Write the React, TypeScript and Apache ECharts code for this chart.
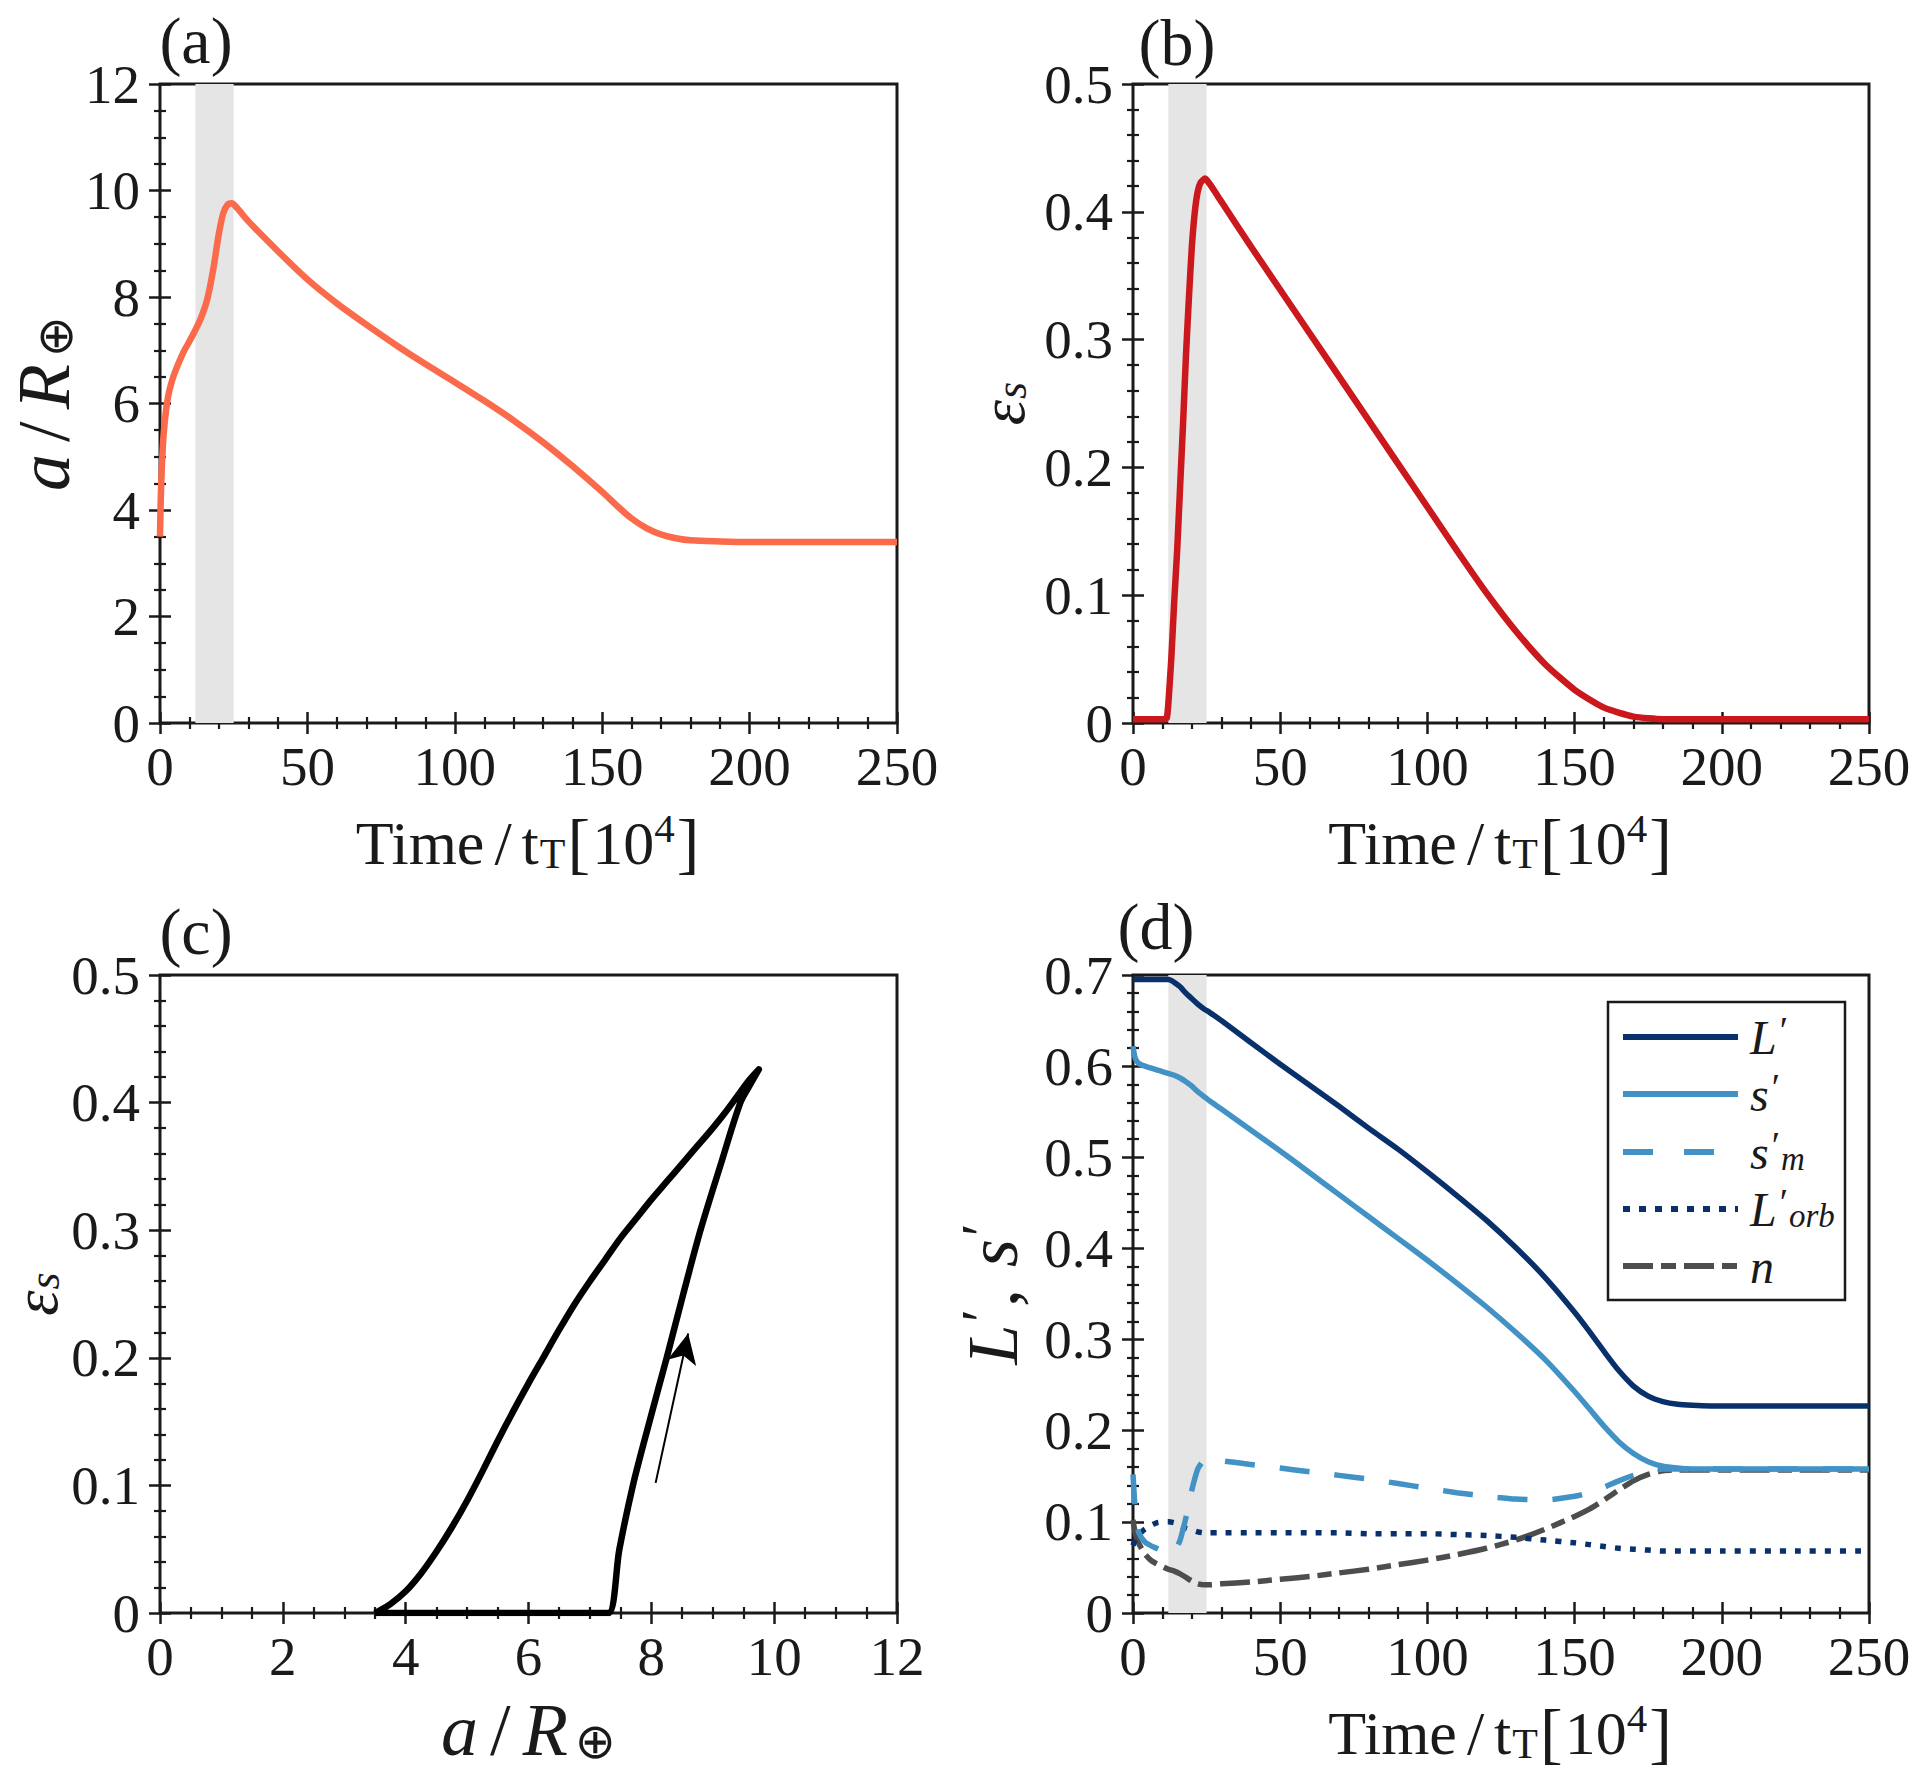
import React, { useEffect, useRef } from "react";
import * as echarts from "echarts";

const SERIF = "'Liberation Serif', 'DejaVu Serif', 'Times New Roman', serif";
const INK = "#1a1a1a";

// ---------- Panel (a): a/R⊕ vs time ----------
const tA = [0, 0.3, 0.7, 1.2, 2, 3, 4.5, 6, 8, 10, 12, 14, 16, 18, 20, 21.5, 23, 24.3, 26, 30, 40, 50, 60, 70, 80, 90, 100, 110, 120, 130, 140, 150, 155, 160, 165, 170, 175, 180, 190, 200, 250];
const aVals = [3.5, 4.3, 4.9, 5.4, 5.85, 6.2, 6.5, 6.72, 6.97, 7.17, 7.38, 7.62, 7.95, 8.5, 9.2, 9.58, 9.74, 9.76, 9.68, 9.42, 8.86, 8.33, 7.88, 7.48, 7.1, 6.74, 6.4, 6.05, 5.68, 5.27, 4.82, 4.34, 4.08, 3.84, 3.66, 3.54, 3.47, 3.43, 3.41, 3.4, 3.4];

// ---------- Panel (b): ε_s vs time ----------
const tB = [0, 5, 10, 11, 11.5, 12, 13, 14, 15, 16, 17, 18, 19, 20, 21, 22, 23, 24.5, 26, 30, 40, 50, 60, 70, 80, 90, 100, 110, 120, 130, 140, 150, 160, 170, 180, 190, 250];
const epsVals = [0.003, 0.003, 0.003, 0.003, 0.004, 0.015, 0.05, 0.095, 0.135, 0.185, 0.234, 0.288, 0.333, 0.373, 0.4, 0.416, 0.423, 0.426, 0.422, 0.408, 0.373, 0.339, 0.305, 0.271, 0.237, 0.203, 0.169, 0.135, 0.102, 0.072, 0.046, 0.026, 0.012, 0.005, 0.003, 0.003, 0.003];

// ---------- Panel (c): ε_s vs a/R⊕ (trajectory) ----------
const cA = [3.5, 5, 6, 7, 7.3, 7.48, 7.7, 7.97, 8.25, 8.52, 8.8, 9.12, 9.45, 9.62, 9.75, 9.6, 9.4, 9.2, 9.0, 8.75, 8.5, 8.25, 8.0, 7.75, 7.5, 7.25, 7.0, 6.75, 6.5, 6.25, 6.0, 5.75, 5.5, 5.25, 5.0, 4.75, 4.5, 4.25, 4.0, 3.75, 3.5];
const cEps = [0, 0, 0, 0, 0, 0.05, 0.1, 0.15, 0.2, 0.25, 0.3, 0.35, 0.4, 0.415, 0.426, 0.418, 0.405, 0.392, 0.38, 0.366, 0.352, 0.338, 0.324, 0.309, 0.294, 0.277, 0.26, 0.242, 0.222, 0.201, 0.18, 0.158, 0.135, 0.111, 0.088, 0.067, 0.048, 0.031, 0.017, 0.007, 0];
const arrowFrom = [8.07, 0.102];
const arrowTo = [8.6, 0.219];

// ---------- Panel (d): L', s', s'_m, L'_orb, n vs time ----------
const tD = [0, 0.5, 1, 2, 4, 6, 8, 10, 12, 14, 16, 18, 20, 22, 24, 26, 30, 40, 50, 60, 70, 80, 90, 100, 110, 120, 130, 140, 150, 155, 160, 165, 170, 175, 180, 185, 190, 200, 225, 250];
const LVals = [0.695, 0.695, 0.695, 0.695, 0.695, 0.695, 0.695, 0.695, 0.695, 0.692, 0.687, 0.68, 0.674, 0.668, 0.663, 0.659, 0.65, 0.626, 0.602, 0.579, 0.556, 0.532, 0.509, 0.484, 0.458, 0.431, 0.401, 0.368, 0.33, 0.309, 0.287, 0.266, 0.249, 0.238, 0.232, 0.229, 0.228, 0.227, 0.227, 0.227];
const sVals = [0.622, 0.612, 0.607, 0.603, 0.6, 0.598, 0.596, 0.594, 0.592, 0.59, 0.587, 0.583, 0.578, 0.572, 0.567, 0.562, 0.553, 0.53, 0.507, 0.483, 0.459, 0.435, 0.411, 0.387, 0.362, 0.336, 0.308, 0.278, 0.243, 0.224, 0.205, 0.188, 0.175, 0.166, 0.161, 0.159, 0.158, 0.158, 0.158, 0.158];
const smVals = [0.152, 0.125, 0.105, 0.088, 0.078, 0.074, 0.071, 0.068, 0.066, 0.067, 0.08, 0.105, 0.135, 0.158, 0.167, 0.168, 0.167, 0.163, 0.159, 0.155, 0.151, 0.147, 0.142, 0.137, 0.132, 0.128, 0.125, 0.124, 0.128, 0.132, 0.138, 0.145, 0.151, 0.155, 0.158, 0.158, 0.158, 0.158, 0.158, 0.158];
const LorbVals = [0.074, 0.078, 0.081, 0.086, 0.092, 0.096, 0.099, 0.1, 0.1, 0.099, 0.096, 0.093, 0.091, 0.089, 0.088, 0.088, 0.088, 0.088, 0.088, 0.088, 0.088, 0.087, 0.087, 0.087, 0.086, 0.085, 0.083, 0.08, 0.077, 0.075, 0.073, 0.071, 0.07, 0.069, 0.068, 0.068, 0.068, 0.068, 0.068, 0.068];
const nVals = [0.102, 0.092, 0.085, 0.076, 0.065, 0.058, 0.054, 0.051, 0.048, 0.046, 0.043, 0.039, 0.035, 0.032, 0.031, 0.031, 0.032, 0.034, 0.037, 0.04, 0.044, 0.048, 0.053, 0.058, 0.064, 0.071, 0.08, 0.092, 0.106, 0.114, 0.124, 0.135, 0.145, 0.152, 0.156, 0.157, 0.157, 0.157, 0.157, 0.157];

// shaded time window (units of 10^4 t_T)
const shadeWindow = [12, 25];

const legendNames = ["L'", "s'", "s'_m", "L'_orb", "n"];

function pairs(xs: number[], ys: number[]) {
  return xs.map((x, i) => [x, ys[i]]);
}

const GRIDS = [
  { left: 160, top: 84, width: 737, height: 639 },
  { left: 1133, top: 84, width: 736, height: 639 },
  { left: 160, top: 975, width: 737, height: 638 },
  { left: 1133, top: 975, width: 736, height: 638 },
];

const TICK_FS = 55;

function rich(fs: number) {
  const small = Math.round(fs * 0.68);
  return {
    n: { fontFamily: SERIF, fontSize: fs, color: INK },
    sl: { fontFamily: SERIF, fontSize: fs, color: INK, padding: [0, Math.round(fs * 0.16), 0, Math.round(fs * 0.16)] },
    cm: { fontFamily: SERIF, fontSize: fs, color: INK, padding: [0, Math.round(fs * 0.3), 0, 2] },
    i: { fontFamily: SERIF, fontSize: fs, fontStyle: "italic", color: INK },
    iR: { fontFamily: SERIF, fontSize: fs, fontStyle: "italic", color: INK, padding: [0, Math.round(fs * 0.06), 0, 0] },
    lo: { fontFamily: SERIF, fontSize: small, padding: [Math.round(fs * 0.36), 0, 0, 1], color: INK },
    ilo: { fontFamily: SERIF, fontStyle: "italic", fontSize: small, padding: [Math.round(fs * 0.3), 0, 0, 1], color: INK },
    oplus: { fontFamily: "'DejaVu Sans', sans-serif", fontSize: Math.round(fs * 0.66), padding: [Math.round(fs * 0.3), 0, 0, 3], color: INK },
    hi: { fontFamily: SERIF, fontSize: Math.round(fs * 0.66), padding: [0, 0, Math.round(fs * 0.5), 0], color: INK },
    pr: { fontFamily: SERIF, fontSize: Math.round(fs * 0.8), padding: [0, 0, Math.round(fs * 0.32), 3], color: INK },
    br: { fontFamily: SERIF, fontSize: Math.round(fs * 1.1), color: INK, padding: [0, 2, 0, 2] },
  };
}

function tickStyle(minorSplit: number) {
  return {
    axisLine: { show: false },
    axisTick: { show: true, inside: true, length: 11, lineStyle: { color: INK, width: 2.5 } },
    minorTick: { show: true, splitNumber: minorSplit, length: 6, lineStyle: { color: INK, width: 2.2 } },
    splitLine: { show: false },
    minorSplitLine: { show: false },
  };
}

function xAxes(g: number, min: number, max: number, interval: number, minorSplit: number, name: string, nameGap: number, nameFs: number) {
  return [
    {
      type: "value", gridIndex: g, position: "bottom", min, max, interval,
      ...tickStyle(minorSplit),
      axisLabel: { fontFamily: SERIF, fontSize: TICK_FS, color: INK, margin: 16, showMinLabel: true, showMaxLabel: true },
      name, nameLocation: "middle", nameGap,
      nameTextStyle: { fontFamily: SERIF, fontSize: nameFs, color: INK, rich: rich(nameFs) },
    },
    {
      type: "value", gridIndex: g, position: "top", min, max, interval,
      ...tickStyle(minorSplit),
      axisLabel: { show: false },
    },
  ];
}

function yAxes(g: number, min: number, max: number, interval: number, minorSplit: number, name: string, nameGap: number, nameFs: number) {
  return [
    {
      type: "value", gridIndex: g, position: "left", min, max, interval,
      ...tickStyle(minorSplit),
      axisLabel: { fontFamily: SERIF, fontSize: TICK_FS, color: INK, margin: 20, showMinLabel: true, showMaxLabel: true },
      name, nameLocation: "middle", nameGap, nameRotate: 90,
      nameTextStyle: { fontFamily: SERIF, fontSize: nameFs, color: INK, rich: rich(nameFs) },
    },
    {
      type: "value", gridIndex: g, position: "right", min, max, interval,
      ...tickStyle(minorSplit),
      axisLabel: { show: false },
    },
  ];
}

function shadeSeries(g: number) {
  return {
    type: "line", xAxisIndex: 2 * g, yAxisIndex: 2 * g, data: [[shadeWindow[0], 0]],
    symbol: "none", lineStyle: { width: 0 }, silent: true, z: 1,
    markArea: {
      silent: true,
      itemStyle: { color: "#e5e5e5" },
      data: [[{ xAxis: shadeWindow[0] }, { xAxis: shadeWindow[1] }]],
    },
  };
}

function lineSeries(g: number, name: string, data: number[][], color: string, width: number, type: any = "solid", z = 3, smooth = 0.2) {
  return {
    type: "line", name, xAxisIndex: 2 * g, yAxisIndex: 2 * g, data,
    symbol: "none", showSymbol: false, z,
    smooth,
    lineStyle: { color, width, type, cap: "butt", join: "round" },
  };
}

const XNAME_TIME = "{n|Time}{sl|/}{n|t}{lo|T}{br|[}{n|10}{hi|4}{br|]}";
const NAME_A = "{i|a}{sl|/}{iR|R}{oplus|⊕}";
const NAME_EPS = "{i|ε}{ilo|s}";
const NAME_LS = "{i|L}{pr|′}{cm|,}{i|s}{pr|′}";

const L_COLOR = "#08306b";
const S_COLOR = "#4292c6";
const N_COLOR = "#4d4d4d";

function legendGraphic() {
  const x0 = 1608, y0 = 1002, w = 237, h = 298;
  const rows = [1037, 1094, 1152, 1209, 1266];
  const styles = [
    { stroke: L_COLOR, lineDash: null },
    { stroke: S_COLOR, lineDash: null },
    { stroke: S_COLOR, lineDash: [30, 31] },
    { stroke: L_COLOR, lineDash: [7, 9] },
    { stroke: N_COLOR, lineDash: [30, 8, 15, 8] },
  ];
  const texts = [
    "{i|L}{pr|′}",
    "{i|s}{pr|′}",
    "{i|s}{pr|′}{ilo|m}",
    "{i|L}{pr|′}{ilo|orb}",
    "{i|n}",
  ];
  const children: any[] = [
    { type: "rect", shape: { x: x0, y: y0, width: w, height: h }, style: { fill: "#fff", stroke: INK, lineWidth: 2.5 }, z: 100 },
  ];
  rows.forEach((y, k) => {
    children.push({
      type: "line", shape: { x1: 1623, y1: y, x2: 1738, y2: y },
      style: { stroke: styles[k].stroke, lineWidth: 6, lineDash: styles[k].lineDash, lineCap: "butt" }, z: 101,
    });
    children.push({
      type: "text", x: 1750, y: y, z: 101,
      style: { text: texts[k], rich: rich(48), fill: INK, textVerticalAlign: "middle", textAlign: "left", fontFamily: SERIF, fontSize: 48 },
    });
  });
  return children;
}

function panelLabel(text: string, x: number, y: number) {
  return {
    type: "text", x, y, z: 100,
    style: { text, fill: INK, fontFamily: SERIF, fontSize: 66, textAlign: "center", textVerticalAlign: "middle" },
  };
}

export default function App() {
  const ref = useRef<HTMLDivElement>(null);
  useEffect(() => {
    document.body.style.margin = "0";
    if (!ref.current) return;
    const chart = echarts.init(ref.current, undefined, { renderer: "svg" });
    const option: any = {
      animation: false,
      backgroundColor: "#ffffff",
      grid: GRIDS.map((g) => ({
        ...g, show: true, borderColor: INK, borderWidth: 3, backgroundColor: "transparent",
        containLabel: false, outerBoundsMode: "none",
      })),
      xAxis: [
        ...xAxes(0, 0, 250, 50, 5, XNAME_TIME, 84, 62),
        ...xAxes(1, 0, 250, 50, 5, XNAME_TIME, 84, 62),
        ...xAxes(2, 0, 12, 2, 4, NAME_A, 80, 74),
        ...xAxes(3, 0, 250, 50, 5, XNAME_TIME, 84, 62),
      ],
      yAxis: [
        ...yAxes(0, 0, 12, 2, 4, NAME_A, 74, 74),
        ...yAxes(1, 0, 0.5, 0.1, 5, NAME_EPS, 99, 64),
        ...yAxes(2, 0, 0.5, 0.1, 5, NAME_EPS, 88, 64),
        ...yAxes(3, 0, 0.7, 0.1, 5, NAME_LS, 100, 72),
      ],
      series: [
        shadeSeries(0),
        lineSeries(0, "a", pairs(tA, aVals), "#fb6a4a", 6.5, "solid", 3, 0.3),
        shadeSeries(1),
        lineSeries(1, "eps", pairs(tB, epsVals), "#cb181d", 6.5),
        {
          type: "line", name: "traj", xAxisIndex: 4, yAxisIndex: 4, data: pairs(cA, cEps),
          symbol: "none", showSymbol: false, smooth: 0.3, z: 3,
          lineStyle: { color: "#000", width: 6.5, join: "round" },
          markLine: {
            silent: true, symbol: ["none", "arrow"], symbolSize: [22, 30],
            label: { show: false },
            lineStyle: { color: "#000", width: 2, type: "solid" },
            data: [[{ coord: arrowFrom }, { coord: arrowTo }]],
          },
        },
        shadeSeries(3),
        lineSeries(3, legendNames[0], pairs(tD, LVals), L_COLOR, 5.5),
        lineSeries(3, legendNames[4], pairs(tD, nVals), N_COLOR, 5.5, [30, 8, 14, 8], 3),
        lineSeries(3, legendNames[3], pairs(tD, LorbVals), L_COLOR, 5.5, [6, 9], 3),
        lineSeries(3, legendNames[2], pairs(tD, smVals), S_COLOR, 5.5, [30, 25], 4),
        lineSeries(3, legendNames[1], pairs(tD, sVals), S_COLOR, 5.5, "solid", 4),
      ],
      graphic: [
        panelLabel("(a)", 196, 40),
        panelLabel("(b)", 1177, 42),
        panelLabel("(c)", 196, 931),
        panelLabel("(d)", 1156, 926),
        ...legendGraphic(),
      ],
    };
    chart.setOption(option);
    return () => chart.dispose();
  }, []);
  return <div ref={ref} style={{ width: 1920, height: 1782, background: "#fff" }} />;
}
